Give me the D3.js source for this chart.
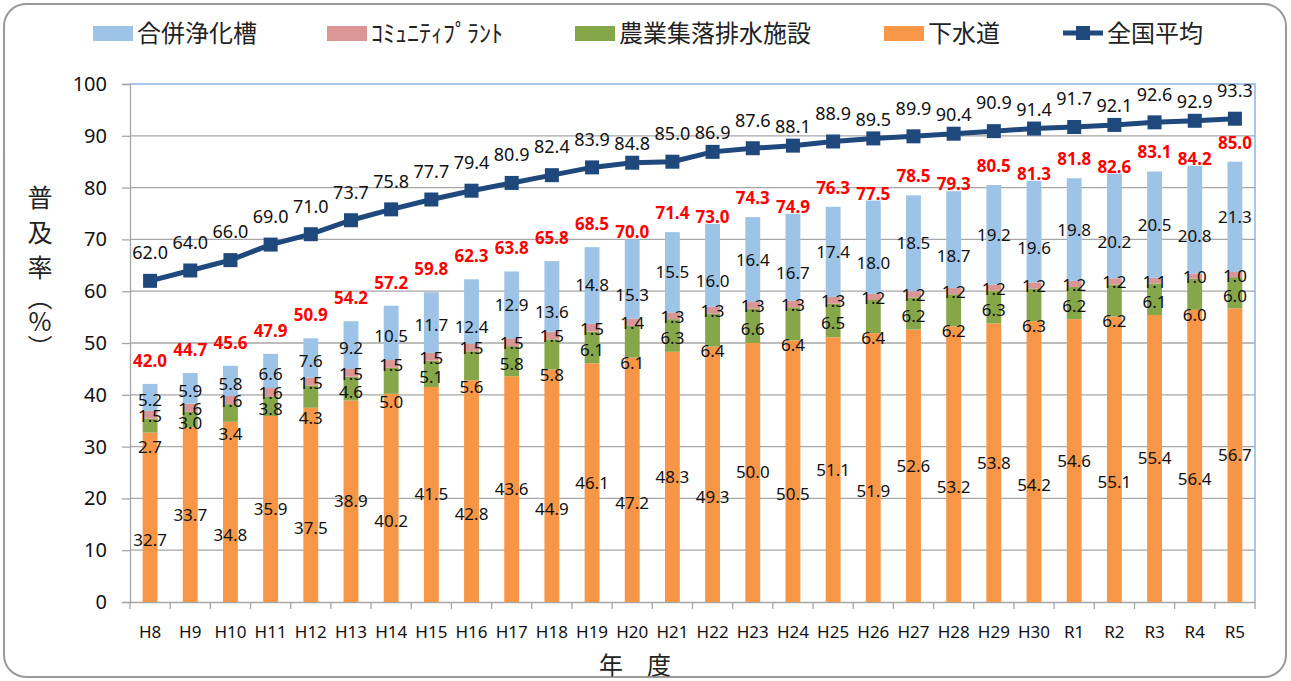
<html>
<head>
<meta charset="utf-8">
<script src="https://d3js.org/d3.v7.min.js"></script>
<style>
body { margin: 0; background: #fff; }
svg { display: block; }
.num { font-family: "Noto Sans", "Open Sans", sans-serif; }
.jp { font-family: "Noto Sans CJK JP", sans-serif; }
</style>
</head>
<body>
<svg id="chart" width="1291" height="681"></svg>
<script>
// fiscal years
var years = ["H8","H9","H10","H11","H12","H13","H14","H15","H16","H17","H18","H19","H20","H21",
  "H22","H23","H24","H25","H26","H27","H28","H29","H30","R1","R2","R3","R4","R5"];

// 下水道
var gesui = [32.7,33.7,34.8,35.9,37.5,38.9,40.2,41.5,42.8,43.6,44.9,46.1,47.2,48.3,
  49.3,50.0,50.5,51.1,51.9,52.6,53.2,53.8,54.2,54.6,55.1,55.4,56.4,56.7];
// 農業集落排水施設
var nouson = [2.7,3.0,3.4,3.8,4.3,4.6,5.0,5.1,5.6,5.8,5.8,6.1,6.1,6.3,
  6.4,6.6,6.4,6.5,6.4,6.2,6.2,6.3,6.3,6.2,6.2,6.1,6.0,6.0];
// コミュニティプラント
var community = [1.5,1.6,1.6,1.6,1.5,1.5,1.5,1.5,1.5,1.5,1.5,1.5,1.4,1.3,
  1.3,1.3,1.3,1.3,1.2,1.2,1.2,1.2,1.2,1.2,1.2,1.1,1.0,1.0];
// 合併浄化槽
var gappei = [5.2,5.9,5.8,6.6,7.6,9.2,10.5,11.7,12.4,12.9,13.6,14.8,15.3,15.5,
  16.0,16.4,16.7,17.4,18.0,18.5,18.7,19.2,19.6,19.8,20.2,20.5,20.8,21.3];
// 合計
var totals = [42.0,44.7,45.6,47.9,50.9,54.2,57.2,59.8,62.3,63.8,65.8,68.5,70.0,71.4,
  73.0,74.3,74.9,76.3,77.5,78.5,79.3,80.5,81.3,81.8,82.6,83.1,84.2,85.0];
// 全国平均
var national = [62.0,64.0,66.0,69.0,71.0,73.7,75.8,77.7,79.4,80.9,82.4,83.9,84.8,85.0,
  86.9,87.6,88.1,88.9,89.5,89.9,90.4,90.9,91.4,91.7,92.1,92.6,92.9,93.3];

var yTicks = [0,10,20,30,40,50,60,70,80,90,100];

var series = [
  {key: "gesui", name: "下水道", values: gesui, color: "#f79646"},
  {key: "nouson", name: "農業集落排水施設", values: nouson, color: "#86a64a"},
  {key: "community", name: "ｺﾐｭﾆﾃｨﾌﾟﾗﾝﾄ", values: community, color: "#d99694"},
  {key: "gappei", name: "合併浄化槽", values: gappei, color: "#9dc3e6"}
];
var lineColor = "#1f497d";

var svg = d3.select("#chart");

// outer frame
svg.append("rect")
  .attr("x", 4).attr("y", 4).attr("width", 1282).attr("height", 673)
  .attr("rx", 22).attr("fill", "#fff").attr("stroke", "#9a9a9a").attr("stroke-width", 2);

var pLeft = 130, pRight = 1255, pTop = 84, pBottom = 602;

var x = d3.scaleBand().domain(years).range([pLeft, pRight]).paddingInner(0.63).paddingOuter(0.315);
var y = d3.scaleLinear().domain([0, 100]).range([pBottom, pTop]);

// table for stacking
var table = years.map(function(yr, i){
  var row = {year: yr, i: i};
  series.forEach(function(s){ row[s.key] = s.values[i]; });
  return row;
});
var stacked = d3.stack().keys(series.map(function(s){ return s.key; }))(table);

// gridlines
svg.append("g").selectAll("line")
  .data(yTicks.filter(function(t){ return t > 0 && t < 100; }))
  .enter().append("line")
  .attr("x1", pLeft).attr("x2", pRight)
  .attr("y1", function(d){ return y(d); }).attr("y2", function(d){ return y(d); })
  .attr("stroke", "#a6a6a6").attr("stroke-width", 1.3);

// plot border top / right
svg.append("path")
  .attr("d", "M" + pLeft + "," + y(100) + "H" + pRight + "V" + y(0))
  .attr("fill", "none").attr("stroke", "#8db3e2").attr("stroke-width", 1.5);

// y axis
var yAxis = svg.append("g")
  .attr("transform", "translate(" + pLeft + ",0)")
  .call(d3.axisLeft(y).tickValues(yTicks).tickSize(8).tickPadding(15).tickFormat(d3.format("d")));
yAxis.select(".domain").attr("stroke", "#a6a6a6").attr("stroke-width", 1.3);
yAxis.selectAll(".tick line").attr("stroke", "#a6a6a6").attr("stroke-width", 1.3);
yAxis.selectAll(".tick text").attr("class", "num").attr("font-size", 20).attr("fill", "#111");

// x axis
var xAxis = svg.append("g")
  .attr("transform", "translate(0," + pBottom + ")")
  .call(d3.axisBottom(x).tickSize(0).tickPadding(24));
xAxis.select(".domain").attr("stroke", "#a6a6a6").attr("stroke-width", 1.3);
xAxis.selectAll(".tick text").attr("class", "num").attr("font-size", 17).attr("fill", "#111");
xAxis.selectAll("line.bound")
  .data(d3.range(years.length + 1))
  .enter().append("line")
  .attr("class", "bound")
  .attr("x1", function(k){ return pLeft + k * x.step(); })
  .attr("x2", function(k){ return pLeft + k * x.step(); })
  .attr("y1", 0).attr("y2", 7)
  .attr("stroke", "#a6a6a6").attr("stroke-width", 1.3);

// bars
var layers = svg.append("g").selectAll("g")
  .data(stacked).enter().append("g")
  .attr("fill", function(d, i){ return series[i].color; });
layers.selectAll("rect")
  .data(function(d){ return d; })
  .enter().append("rect")
  .attr("x", function(d){ return x(d.data.year); })
  .attr("width", x.bandwidth())
  .attr("y", function(d){ return y(d[1]); })
  .attr("height", function(d){ return y(d[0]) - y(d[1]); });

// segment labels (staggered like the original)
function labelShift(key, v, i) {
  var even = i % 2 === 0;
  if (key === "gesui") return even ? 23 : 0;
  if (key === "nouson") return even ? 21 : 3;
  if (key === "community") return 1;
  return v >= 12 ? (even ? 16 : 0) : 3;
}
var labels = svg.append("g");
stacked.forEach(function(layer, si){
  var s = series[si];
  labels.selectAll("text." + s.key)
    .data(layer).enter().append("text")
    .attr("class", "num " + s.key)
    .attr("x", function(d){ return x(d.data.year) + x.bandwidth() / 2; })
    .attr("y", function(d, i){ return (y(d[0]) + y(d[1])) / 2 + labelShift(s.key, s.values[i], i); })
    .attr("dy", "0.35em")
    .attr("text-anchor", "middle")
    .attr("font-size", 17)
    .attr("fill", "#111")
    .text(function(d, i){ return s.values[i].toFixed(1); });
});

// line
var cx = function(i){ return x(years[i]) + x.bandwidth() / 2; };
svg.append("path")
  .datum(national)
  .attr("fill", "none").attr("stroke", lineColor).attr("stroke-width", 5)
  .attr("d", d3.line().x(function(d, i){ return cx(i); }).y(function(d){ return y(d); }));
svg.append("g").selectAll("rect")
  .data(national).enter().append("rect")
  .attr("x", function(d, i){ return cx(i) - 7; })
  .attr("y", function(d){ return y(d) - 7; })
  .attr("width", 14).attr("height", 14)
  .attr("fill", lineColor);

// total labels (red), staggered above the bar tops
var topOfBar = stacked[stacked.length - 1];
function totalShift(i) {
  if (i < 12) return -23;
  return i % 2 === 0 ? -7 : -19;
}
svg.append("g").selectAll("text")
  .data(totals).enter().append("text")
  .attr("class", "num")
  .attr("x", function(d, i){ return cx(i); })
  .attr("y", function(d, i){ return y(topOfBar[i][1]) + totalShift(i); })
  .attr("dy", "0.35em")
  .attr("text-anchor", "middle")
  .attr("font-size", 17).attr("font-weight", "bold")
  .attr("fill", "#ff0000")
  .text(function(d){ return d.toFixed(1); });

// national labels
svg.append("g").selectAll("text")
  .data(national).enter().append("text")
  .attr("class", "num")
  .attr("x", function(d, i){ return cx(i); })
  .attr("y", function(d, i){ return y(d) + (i >= 12 && i % 2 === 0 ? -19 : -28); })
  .attr("dy", "0.35em")
  .attr("text-anchor", "middle")
  .attr("font-size", 18)
  .attr("fill", "#111")
  .text(function(d){ return d.toFixed(1); });

// axis titles (vertical, one glyph per line)
var yTitle = ["普", "及", "率", "︵", "%", "︶"];
var yTitleStep = [0, 35, 70, 100, 124, 150];
var yt = svg.append("text")
  .attr("class", "jp")
  .attr("font-size", 25)
  .attr("fill", "#222")
  .attr("text-anchor", "middle");
yt.selectAll("tspan").data(yTitle).enter().append("tspan")
  .attr("x", 40)
  .attr("y", function(d, i){ return 207 + yTitleStep[i]; })
  .text(function(d){ return d; });

svg.append("text")
  .attr("class", "jp")
  .attr("x", 635).attr("y", 674)
  .attr("text-anchor", "middle")
  .attr("font-size", 24)
  .attr("fill", "#222")
  .text("年　度");

// legend
var legendItems = [
  {name: "合併浄化槽", color: "#9dc3e6", x: 93},
  {name: "ｺﾐｭﾆﾃｨﾌﾟﾗﾝﾄ", color: "#d99694", x: 327},
  {name: "農業集落排水施設", color: "#86a64a", x: 575},
  {name: "下水道", color: "#f79646", x: 884}
];
var lg = svg.append("g");
legendItems.forEach(function(it){
  lg.append("rect").attr("x", it.x).attr("y", 26).attr("width", 40).attr("height", 15).attr("fill", it.color);
  lg.append("text").attr("class", "jp").attr("x", it.x + 44).attr("y", 42)
    .attr("font-size", 24).attr("fill", "#222").text(it.name);
});
lg.append("line").attr("x1", 1063).attr("x2", 1103).attr("y1", 33).attr("y2", 33)
  .attr("stroke", lineColor).attr("stroke-width", 5);
lg.append("rect").attr("x", 1076).attr("y", 26).attr("width", 14).attr("height", 14).attr("fill", lineColor);
lg.append("text").attr("class", "jp").attr("x", 1107).attr("y", 42)
  .attr("font-size", 24).attr("fill", "#222").text("全国平均");
</script>
</body>
</html>
